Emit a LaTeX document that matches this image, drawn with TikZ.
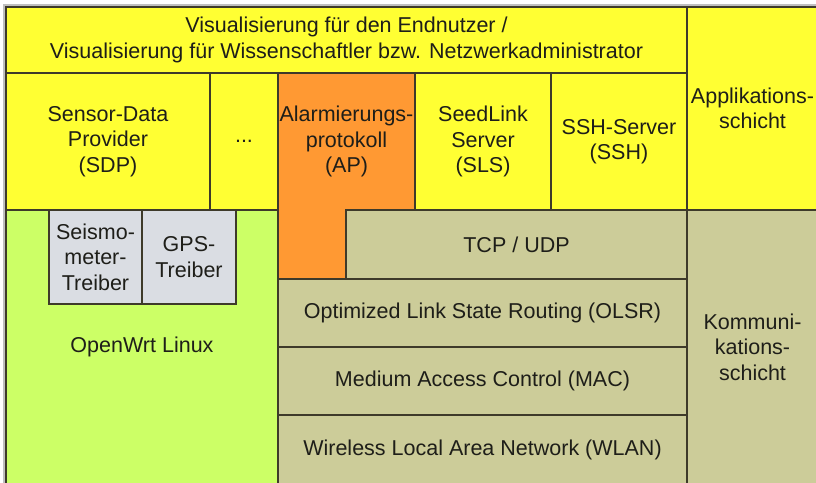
\documentclass[tikz,border=0pt]{standalone}
\usepackage{fontspec}
\setmainfont{Liberation Sans}
\definecolor{appYellow}{RGB}{255,255,51}
\definecolor{alarmOrange}{RGB}{255,153,51}
\definecolor{linuxGreen}{RGB}{204,255,102}
\definecolor{netTan}{RGB}{204,204,153}
\definecolor{driverGray}{RGB}{218,221,227}
\definecolor{edgeDark}{RGB}{62,58,42}
\definecolor{textDark}{RGB}{30,30,25}

\begin{document}
\begin{tikzpicture}[x=1pt, y=-1pt]%
  \tikzset{layer/.style={draw=edgeDark, line width=1.5pt, rectangle, anchor=north west, inner sep=0pt, outer sep=0pt, align=center, text=textDark, font=\fontsize{21.5}{25.5}\selectfont}}

  \clip (0,0) rectangle (816,482);
  \fill[white] (0,0) rectangle (816,482);
  \draw[gray!50, line width=2pt] (3.5,484) -- (3.5,5) -- (818,5);

  % application layer
  \node[layer, fill=appYellow, minimum width=681pt, minimum height=66pt] (vis) at (6,7) {Visualisierung für den Endnutzer /\\Visualisierung für Wissenschaftler bzw. Netzwerkadministrator};
  \node[layer, fill=appYellow, minimum width=131pt, minimum height=203pt] (app) at (687,7) {Applikations-\\schicht};
  \node[layer, fill=appYellow, minimum width=204pt, minimum height=137pt] (sdp) at (6,73) {Sensor-Data\\Provider\\(SDP)};
  \node[layer, fill=appYellow, minimum width=68pt, minimum height=137pt] (dots) at (210,73) {...};
  \node[layer, fill=appYellow, minimum width=136pt, minimum height=137pt] (sls) at (415,73) {SeedLink\\Server\\(SLS)};
  \node[layer, fill=appYellow, minimum width=136pt, minimum height=137pt] (ssh) at (551,73) {SSH-Server\\(SSH)};

  % system
  \node[layer, fill=linuxGreen, minimum width=272pt, minimum height=274pt] (linux) at (6,210) {OpenWrt Linux};
  \node[layer, fill=driverGray, minimum width=93pt, minimum height=94pt] (seis) at (49,210) {Seismo-\\meter-\\Treiber};
  \node[layer, fill=driverGray, minimum width=94pt, minimum height=94pt] (gps) at (142,210) {GPS-\\Treiber};

  % alarm protocol spans both layers
  \filldraw[fill=alarmOrange, draw=edgeDark, line width=1.5pt] (278,73) -- (415,73) -- (415,210) -- (346,210) -- (346,279) -- (278,279) -- cycle;
  \node[layer, draw=none, minimum width=137pt, minimum height=137pt] (ap) at (278,73) {Alarmierungs-\\protokoll\\(AP)};

  % communication layer
  \node[layer, fill=netTan, minimum width=341pt, minimum height=69pt] (tcp) at (346,210) {TCP / UDP};
  \node[layer, fill=netTan, minimum width=409pt, minimum height=68pt] (olsr) at (278,279) {Optimized Link State Routing (OLSR)};
  \node[layer, fill=netTan, minimum width=409pt, minimum height=68pt] (mac) at (278,347) {Medium Access Control (MAC)};
  \node[layer, fill=netTan, minimum width=409pt, minimum height=69pt] (wlan) at (278,415) {Wireless Local Area Network (WLAN)};
  \node[layer, fill=netTan, minimum width=131pt, minimum height=274pt] (komm) at (687,210) {Kommuni-\\kations-\\schicht};
\end{tikzpicture}
\end{document}
